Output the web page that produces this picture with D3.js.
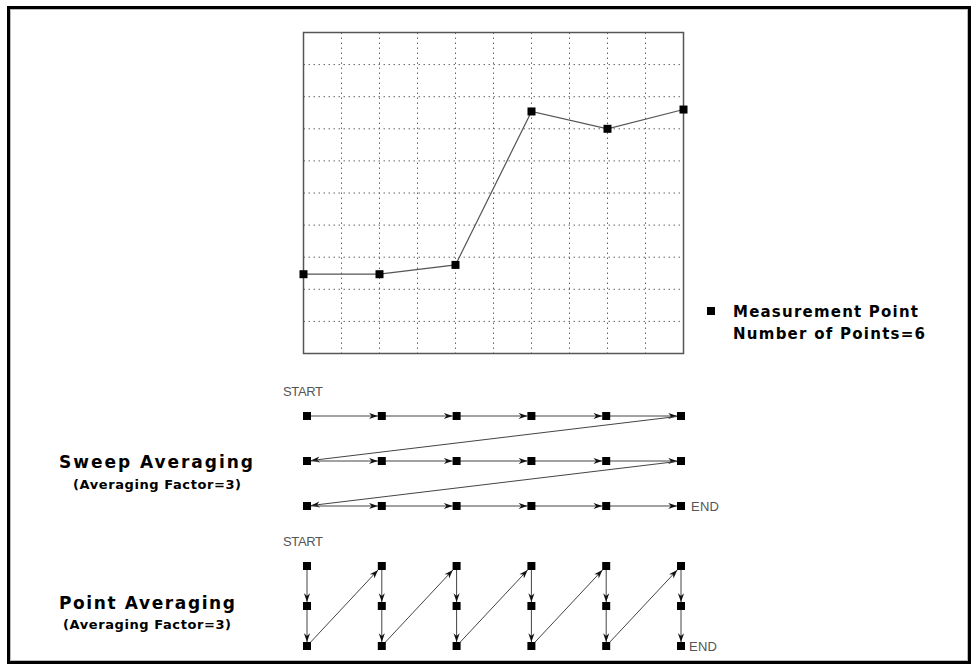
<!DOCTYPE html>
<html>
<head>
<meta charset="utf-8">
<script src="https://cdn.jsdelivr.net/npm/d3@7"></script>
<style>
  body { margin: 0; background: #fff; }
  text { font-family: "Liberation Sans", Arial, sans-serif; }
  text.bold { font-family: "DejaVu Sans", sans-serif; font-weight: bold; }
</style>
</head>
<body>
<svg id="svg" width="971" height="665"></svg>
<script>
// measurement points and their trace values (in grid divisions, 0..10)
var pointIndex = [0, 1, 2, 3, 4, 5];
var traceValues = [2.47, 2.47, 2.76, 7.54, 7.0, 7.6];
var averagingFactor = 3;
var gridDivisions = [0, 1, 2, 3, 4, 5, 6, 7, 8, 9, 10];
var legendLines = ["Measurement Point", "Number of Points=6"];
var sweepLabels = ["Sweep Averaging", "(Averaging Factor=3)"];
var pointLabels = ["Point Averaging", "(Averaging Factor=3)"];

window.onload = function() {
    var svg = d3.select("svg");

    // outer frame
    svg.append("rect").attr("x", 8.5).attr("y", 7.5).attr("width", 961).attr("height", 655)
        .attr("fill", "none").attr("stroke", "#000").attr("stroke-width", 3);
    svg.append("rect").attr("x", 10.5).attr("y", 9.5).attr("width", 957).attr("height", 651)
        .attr("fill", "none").attr("stroke", "#bbb").attr("stroke-width", 1);

    // arrowhead
    svg.append("defs").append("marker")
        .attr("id", "arr")
        .attr("markerUnits", "userSpaceOnUse")
        .attr("viewBox", "0 0 10 8")
        .attr("markerWidth", 10).attr("markerHeight", 7)
        .attr("refX", 10).attr("refY", 4)
        .attr("orient", "auto")
        .append("path").attr("d", "M0,0.5 L10,4 L0,7.5 L3,4 Z").attr("fill", "#111");

    // ---- top trace plot ----
    var x = d3.scaleLinear().domain([0, 5]).range([303.5, 683.5]);
    var gx = d3.scaleLinear().domain([0, 10]).range([303.5, 683.5]);
    var y = d3.scaleLinear().domain([0, 10]).range([353.5, 32.5]);

    var grid = svg.append("g");
    grid.selectAll("line.v").data(gridDivisions.slice(1, -1)).enter().append("line")
        .attr("x1", function(d) { return gx(d); }).attr("x2", function(d) { return gx(d); })
        .attr("y1", y(10)).attr("y2", y(0));
    grid.selectAll("line.h").data(gridDivisions.slice(1, -1)).enter().append("line")
        .attr("y1", function(d) { return y(d); }).attr("y2", function(d) { return y(d); })
        .attr("x1", gx(0)).attr("x2", gx(10));
    grid.selectAll("line").attr("stroke", "#666").attr("stroke-width", 1)
        .attr("stroke-dasharray", "1.5,3.5");

    svg.append("rect").attr("x", x(0)).attr("y", y(10))
        .attr("width", x(5) - x(0)).attr("height", y(0) - y(10))
        .attr("fill", "none").attr("stroke", "#555").attr("stroke-width", 1.5);

    var line = d3.line()
        .x(function(d, i) { return x(pointIndex[i]); })
        .y(function(d) { return y(d); });
    svg.append("path").datum(traceValues).attr("d", line)
        .attr("fill", "none").attr("stroke", "#555").attr("stroke-width", 1.2);

    svg.selectAll("rect.pt").data(traceValues).enter().append("rect")
        .attr("class", "pt")
        .attr("x", function(d, i) { return x(pointIndex[i]) - 4; })
        .attr("y", function(d) { return y(d) - 4; })
        .attr("width", 8).attr("height", 8).attr("fill", "#000");

    // legend
    svg.append("rect").attr("x", 707).attr("y", 307).attr("width", 8).attr("height", 8).attr("fill", "#000");
    svg.selectAll("text.leg").data(legendLines).enter().append("text")
        .attr("class", "bold")
        .attr("x", 733).attr("y", function(d, i) { return 317 + i * 22; })
        .attr("font-size", 15)
        .attr("textLength", function(d, i) { return [185, 192][i]; })
        .attr("lengthAdjust", "spacing")
        .text(function(d) { return d; });

    // ---- diagrams ----
    var dx = d3.scaleLinear().domain([0, 5]).range([307, 681]);
    var sweepRow = d3.scalePoint().domain(d3.range(averagingFactor)).range([416, 506]);
    var pointRow = d3.scalePoint().domain(d3.range(averagingFactor)).range([566, 646]);

    function arrow(g, a, b) {
        var ddx = b[0] - a[0], ddy = b[1] - a[1];
        var len = Math.sqrt(ddx * ddx + ddy * ddy);
        var sh = 4 / Math.max(Math.abs(ddx), Math.abs(ddy)) * len;
        var s = sh / len;
        g.append("line")
            .attr("x1", a[0]).attr("y1", a[1])
            .attr("x2", b[0] - ddx * s).attr("y2", b[1] - ddy * s)
            .attr("stroke", "#444").attr("stroke-width", 1)
            .attr("marker-end", "url(#arr)");
    }

    function square(g, p) {
        g.append("rect").attr("x", p[0] - 4).attr("y", p[1] - 4)
            .attr("width", 8).attr("height", 8).attr("fill", "#000");
    }

    // sweep averaging: whole sweep repeated
    var sweepSeq = [];
    d3.range(averagingFactor).forEach(function(r) {
        pointIndex.forEach(function(p) { sweepSeq.push([dx(p), sweepRow(r)]); });
    });
    var gs = svg.append("g");
    for (var i = 1; i < sweepSeq.length; i++) arrow(gs, sweepSeq[i - 1], sweepSeq[i]);
    sweepSeq.forEach(function(p) { square(gs, p); });

    // point averaging: each point measured repeatedly
    var pointSeq = [];
    pointIndex.forEach(function(p) {
        d3.range(averagingFactor).forEach(function(r) { pointSeq.push([dx(p), pointRow(r)]); });
    });
    var gp = svg.append("g");
    for (var j = 1; j < pointSeq.length; j++) arrow(gp, pointSeq[j - 1], pointSeq[j]);
    pointSeq.forEach(function(p) { square(gp, p); });

    // START / END labels
    var small = [["START", 283, 396], ["END", 691, 511], ["START", 283, 546], ["END", 689, 651]];
    svg.selectAll("text.se").data(small).enter().append("text")
        .attr("x", function(d) { return d[1]; }).attr("y", function(d) { return d[2]; })
        .attr("font-size", 13).attr("fill", "#555")
        .attr("textLength", function(d) { return d[0] === "START" ? 40 : 28; })
        .attr("lengthAdjust", "spacing")
        .text(function(d) { return d[0]; });

    // section titles
    function title(lines, x0, y0, x1, y1, w0, w1) {
        svg.append("text").attr("class", "bold").attr("x", x0).attr("y", y0).attr("font-size", 17)
            .attr("textLength", w0).attr("lengthAdjust", "spacing").text(lines[0]);
        svg.append("text").attr("class", "bold").attr("x", x1).attr("y", y1).attr("font-size", 13)
            .attr("textLength", w1).attr("lengthAdjust", "spacing").text(lines[1]);
    }
    title(sweepLabels, 59, 468, 73, 489, 194, 168);
    title(pointLabels, 59, 609, 63, 629, 176, 168);
};
</script>
</body>
</html>
